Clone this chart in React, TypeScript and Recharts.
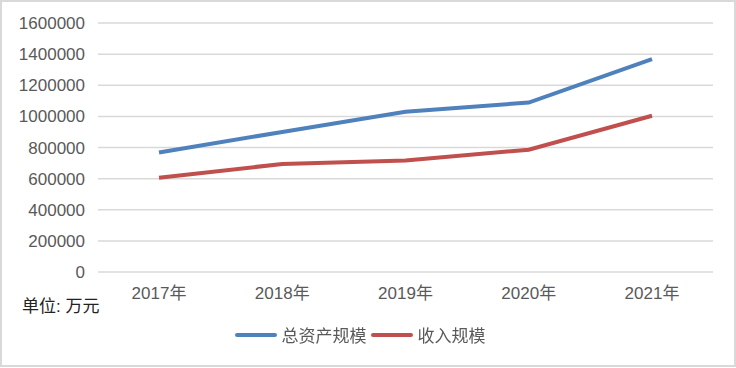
import { LineChart, Line, XAxis, YAxis, CartesianGrid } from 'recharts'

const years = ['2017年', '2018年', '2019年', '2020年', '2021年']
const totalAssets = [768000, 900000, 1030000, 1089000, 1368000]
const revenue = [606000, 694000, 717000, 786000, 1004000]
const yTicks = [0, 200000, 400000, 600000, 800000, 1000000, 1200000, 1400000, 1600000]

const seriesNames = { assets: '总资产规模', revenue: '收入规模' }
const colors = { assets: '#4F81BD', revenue: '#C0504D' }

const data = years.map((year, i) => ({
  year,
  assets: totalAssets[i],
  revenue: revenue[i],
}))

const FONT = '"Liberation Sans", Arial, "Noto Sans CJK SC", sans-serif'

function LegendBox() {
  const items = [
    { key: 'assets', label: seriesNames.assets, color: colors.assets },
    { key: 'revenue', label: seriesNames.revenue, color: colors.revenue },
  ]
  return (
    <div
      style={{
        position: 'absolute',
        left: -6,
        top: 322,
        width: 736,
        display: 'flex',
        justifyContent: 'center',
        alignItems: 'center',
        fontFamily: FONT,
      }}
    >
      {items.map((it) => (
        <div key={it.key} style={{ display: 'flex', alignItems: 'center', marginRight: 4 }}>
          <span
            style={{
              display: 'inline-block',
              width: 42,
              height: 4,
              borderRadius: 2,
              background: it.color,
              marginRight: 5,
            }}
          />
          <span style={{ fontSize: 17, color: '#595959' }}>{it.label}</span>
        </div>
      ))}
    </div>
  )
}

export default function App() {
  return (
    <div style={{ position: 'fixed', left: 0, top: 0, width: 736, height: 368, background: '#fff' }}>
      <LineChart
        width={736}
        height={368}
        data={data}
        margin={{ top: 23, right: 23, left: 0, bottom: 66 }}
        style={{ fontFamily: FONT }}
      >
        <CartesianGrid vertical={false} stroke="#d9d9d9" strokeWidth={1.5} />
        <XAxis
          dataKey="year"
          axisLine={false}
          tickLine={false}
          tickSize={0}
          tickMargin={15}
          padding={{ left: 61, right: 61 }}
          tick={{ fontSize: 17, fill: '#595959' }}
        />
        <YAxis
          width={98}
          domain={[0, 1600000]}
          ticks={yTicks}
          interval={0}
          axisLine={false}
          tickLine={false}
          tickSize={0}
          tickMargin={13}
          tick={{ fontSize: 17, fill: '#595959' }}
        />
        <Line
          dataKey="assets"
          name={seriesNames.assets}
          stroke={colors.assets}
          strokeWidth={4}
          dot={false}
          type="linear"
          isAnimationActive={false}
        />
        <Line
          dataKey="revenue"
          name={seriesNames.revenue}
          stroke={colors.revenue}
          strokeWidth={4}
          dot={false}
          type="linear"
          isAnimationActive={false}
        />
      </LineChart>
      <LegendBox />
      <div
        style={{
          position: 'absolute',
          left: 22,
          top: 292,
          fontSize: 17,
          color: '#222',
          fontFamily: FONT,
        }}
      >
        单位: 万元
      </div>
      <div
        style={{
          position: 'absolute',
          left: 0,
          top: 0,
          width: 736,
          height: 367,
          boxSizing: 'border-box',
          border: '2px solid #d9d9d9',
          pointerEvents: 'none',
        }}
      />
    </div>
  )
}
